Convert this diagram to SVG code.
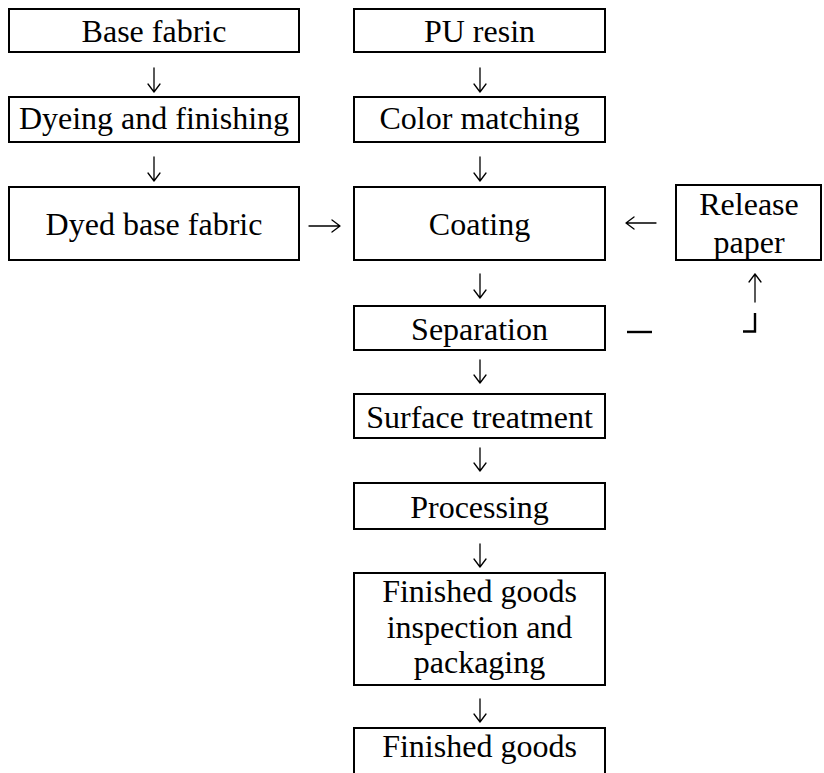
<svg xmlns="http://www.w3.org/2000/svg" width="824" height="773" viewBox="0 0 824 773">
<style>
.box{fill:#fff;stroke:#000;stroke-width:2}
.t{font-family:"Liberation Serif","Times New Roman",serif;font-size:32px;fill:#000;text-anchor:middle}
.c{fill:none;stroke:#000;stroke-width:1.3;stroke-linecap:round;stroke-linejoin:round}
.k{fill:none;stroke:#000;stroke-width:2.4}
</style>
<rect width="824" height="773" fill="#fff"/>
<g id="base-fabric"><rect class="box" x="9" y="9" width="290" height="43"/><text class="t" x="154" y="42">Base fabric</text></g>
<g id="dyeing"><rect class="box" x="9" y="97" width="290" height="45"/><text class="t" x="154" y="129">Dyeing and finishing</text></g>
<g id="dyed-base-fabric"><rect class="box" x="9" y="187" width="290" height="73"/><text class="t" x="154" y="235">Dyed base fabric</text></g>
<g id="pu-resin"><rect class="box" x="354" y="9" width="251" height="43"/><text class="t" x="479.5" y="42">PU resin</text></g>
<g id="color-matching"><rect class="box" x="354" y="97" width="251" height="45"/><text class="t" x="479.5" y="129">Color matching</text></g>
<g id="coating"><rect class="box" x="354" y="187" width="251" height="73"/><text class="t" x="479.5" y="235">Coating</text></g>
<g id="release-paper"><rect class="box" x="676" y="185" width="145" height="75"/><text class="t" x="749" y="215">Release</text><text class="t" x="749" y="253">paper</text></g>
<g id="separation"><rect class="box" x="354" y="306" width="251" height="44"/><text class="t" x="479.5" y="340">Separation</text></g>
<g id="surface-treatment"><rect class="box" x="354" y="394" width="251" height="44"/><text class="t" x="479.5" y="428">Surface treatment</text></g>
<g id="processing"><rect class="box" x="354" y="483" width="251" height="46"/><text class="t" x="479.5" y="518">Processing</text></g>
<g id="inspection"><rect class="box" x="354" y="573" width="251" height="112"/><text class="t" x="479.5" y="602">Finished goods</text><text class="t" x="479.5" y="638">inspection and</text><text class="t" x="479.5" y="673">packaging</text></g>
<g id="finished-goods"><rect class="box" x="354" y="728" width="251" height="60"/><text class="t" x="479.5" y="757">Finished goods</text></g>
<g id="connectors">
<path class="c" d="M154 68V92M148 84L154 92L160 84"/>
<path class="c" d="M154 157V181M148 173L154 181L160 173"/>
<path class="c" d="M480 68V92M474 84L480 92L486 84"/>
<path class="c" d="M480 157V181M474 173L480 181L486 173"/>
<path class="c" d="M480 274V298M474 290L480 298L486 290"/>
<path class="c" d="M480 360V383M474 375L480 383L486 375"/>
<path class="c" d="M480 448V471M474 463L480 471L486 463"/>
<path class="c" d="M480 544V567M474 559L480 567L486 559"/>
<path class="c" d="M480 699V722M474 714L480 722L486 714"/>
<path class="c" d="M309 226H340M332 220L340 226L332 232"/>
<path class="c" d="M656 223H626M634 217L626 223L634 229"/>
<path class="c" d="M755 302V274M749 282L755 274L761 282"/>
<path class="k" d="M627 332H652"/>
<path class="k" d="M743 331.5H755V313"/>
</g>
</svg>
